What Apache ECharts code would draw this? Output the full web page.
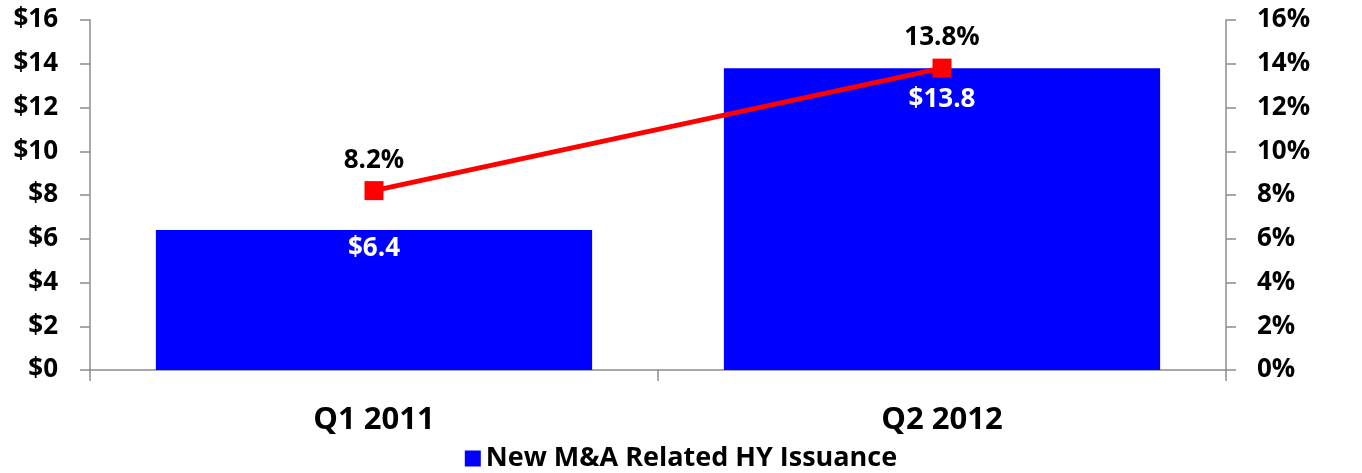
<!DOCTYPE html>
<html>
<head>
<meta charset="utf-8">
<script src="https://cdn.jsdelivr.net/npm/echarts@6/dist/echarts.min.js"></script>
<style>
  html, body { margin: 0; padding: 0; background: #fff; }
  #chart { width: 1362px; height: 473px; }
</style>
</head>
<body>
<div id="chart"></div>
<script>
// Quarterly M&A related high-yield issuance ($bn) and its share of total issuance (%)
const categories = ['Q1 2011', 'Q2 2012'];
const issuance = [6.4, 13.8];
const sharePct = [8.2, 13.8];
const leftTicks = { min: 0, max: 16, interval: 2 };
const rightTicks = { min: 0, max: 16, interval: 2 };

const FONT = '"Open Sans", Lato, sans-serif';
const AXIS_GRAY = '#8c8c8c';
// the second bar label sits lower so it clears the line marker
const barLabelDistance = [6, 18];

const chart = echarts.init(document.getElementById('chart'));
chart.setOption({
  animation: false,
  textStyle: { fontFamily: FONT },
  grid: { left: 90, right: 136, top: 20, bottom: 103 },
  legend: {
    data: [{ name: 'New M&A Related HY Issuance', icon: 'rect' }],
    top: 445,
    padding: 0,
    left: 'center',
    itemWidth: 16,
    itemHeight: 16,
    itemGap: 10,
    textStyle: { fontFamily: FONT, fontSize: 27, fontWeight: 'bold', color: '#000' }
  },
  xAxis: {
    type: 'category',
    data: categories,
    boundaryGap: true,
    axisLine: { lineStyle: { color: AXIS_GRAY, width: 1.5 } },
    axisTick: { show: true, length: 11, lineStyle: { color: AXIS_GRAY, width: 1.5 } },
    axisLabel: { margin: 35, fontSize: 31, fontWeight: 'bold', color: '#000', fontFamily: FONT }
  },
  yAxis: [
    {
      type: 'value',
      min: leftTicks.min, max: leftTicks.max, interval: leftTicks.interval,
      splitLine: { show: false },
      axisLine: { show: true, lineStyle: { color: AXIS_GRAY, width: 1.5 } },
      axisTick: { show: true, length: 10, lineStyle: { color: AXIS_GRAY, width: 1.5 } },
      axisLabel: { margin: 32, fontSize: 26, fontWeight: 'bold', color: '#000', fontFamily: FONT,
        formatter: v => '$' + v }
    },
    {
      type: 'value',
      position: 'right',
      min: rightTicks.min, max: rightTicks.max, interval: rightTicks.interval,
      splitLine: { show: false },
      axisLine: { show: true, lineStyle: { color: AXIS_GRAY, width: 1.5 } },
      axisTick: { show: true, length: 10, lineStyle: { color: AXIS_GRAY, width: 1.5 } },
      axisLabel: { margin: 31, fontSize: 26, fontWeight: 'bold', color: '#000', fontFamily: FONT,
        formatter: v => v + '%' }
    }
  ],
  series: [
    {
      name: 'New M&A Related HY Issuance',
      type: 'bar',
      yAxisIndex: 0,
      data: issuance.map((v, i) => ({ value: v, label: { distance: barLabelDistance[i] } })),
      barWidth: '76.8%',
      itemStyle: { color: '#0000ff' },
      label: {
        show: true,
        position: 'insideTop',
        color: '#fff',
        fontSize: 26,
        fontWeight: 'bold',
        fontFamily: FONT,
        formatter: p => '$' + p.value.toFixed(1)
      }
    },
    {
      name: 'Share',
      type: 'line',
      yAxisIndex: 1,
      data: sharePct,
      symbol: 'rect',
      symbolSize: 19,
      lineStyle: { color: '#ff0000', width: 5 },
      itemStyle: { color: '#ff0000' },
      label: {
        show: true,
        position: 'top',
        distance: 8,
        color: '#000',
        fontSize: 26,
        fontWeight: 'bold',
        fontFamily: FONT,
        formatter: p => p.value.toFixed(1) + '%'
      }
    }
  ]
});
</script>
</body>
</html>
